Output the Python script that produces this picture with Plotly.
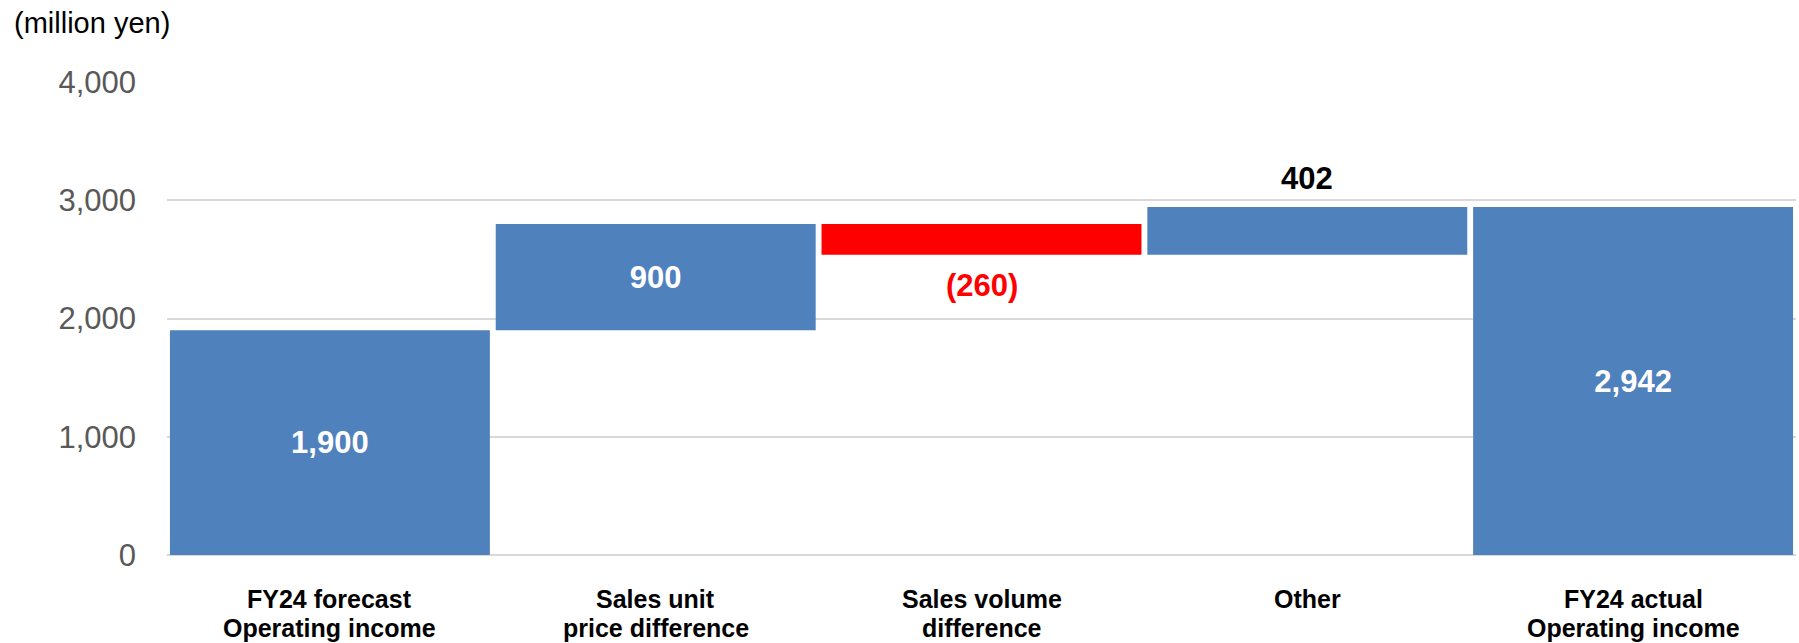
import plotly.graph_objects as go

categories = ["FY24 forecast Operating income", "Sales unit price difference",
              "Sales volume difference", "Other", "FY24 actual Operating income"]
label_line1 = ["FY24 forecast", "Sales unit", "Sales volume", "Other", "FY24 actual"]
label_line2 = ["Operating income", "price difference", "difference", "", "Operating income"]
values = [1900, 900, -260, 402, 2942]
measures = ["absolute", "relative", "relative", "relative", "total"]
y_ticks = [0, 1000, 2000, 3000, 4000]


def fmt(v):
    return f"({abs(v):,})" if v < 0 else f"{v:,}"


labels = [fmt(v) for v in values]
inside = [True, True, False, False, True]

BLUE = "#4f81bd"
RED = "#ff0000"
FONT = "Liberation Sans, Arial, sans-serif"

fig = go.Figure(go.Waterfall(
    x=categories,
    y=values,
    measure=measures,
    text=[t if ins else "" for t, ins in zip(labels, inside)],
    textposition=["inside" if ins else "none" for ins in inside],
    insidetextfont=dict(family=FONT, size=31, color="white", weight="bold"),
    insidetextanchor="middle",
    constraintext="none",
    increasing=dict(marker=dict(color=BLUE)),
    decreasing=dict(marker=dict(color=RED)),
    totals=dict(marker=dict(color=BLUE)),
    connector=dict(visible=False),
    hoverinfo="skip",
))

annotations = [dict(
    text="(million yen)", xref="paper", yref="paper",
    x=0, y=1, xanchor="left", yanchor="middle",
    xshift=-155, yshift=59, showarrow=False,
    font=dict(family=FONT, size=29, color="black"),
)]

# outside data labels (placed relative to the bar end)
running = 0
for cat, v, m, t, ins in zip(categories, values, measures, labels, inside):
    if m == "absolute":
        end = v
    elif m == "total":
        end = running
    else:
        end = running + v
    running = end
    if ins:
        continue
    if v >= 0:
        annotations.append(dict(
            text=f"<b>{t}</b>", x=cat, y=end, xref="x", yref="y",
            yanchor="middle", yshift=29, showarrow=False,
            font=dict(family=FONT, size=31, color="black")))
    else:
        annotations.append(dict(
            text=f"<b>{t}</b>", x=cat, y=end, xref="x", yref="y",
            yanchor="middle", yshift=-31, showarrow=False,
            font=dict(family=FONT, size=31, color=RED)))

# category labels (two tight lines)
for cat, l1, l2 in zip(categories, label_line1, label_line2):
    annotations.append(dict(
        text=f"<b>{l1}</b>", x=cat, y=0, xref="x", yref="paper",
        yanchor="middle", yshift=-44, showarrow=False, borderpad=0,
        font=dict(family=FONT, size=25, color="black")))
    if l2:
        annotations.append(dict(
            text=f"<b>{l2}</b>", x=cat, y=0, xref="x", yref="paper",
            yanchor="middle", yshift=-73, showarrow=False, borderpad=0,
            font=dict(family=FONT, size=25, color="black")))

fig.update_layout(
    width=1799, height=643,
    margin=dict(l=167, r=3, t=82, b=88),
    plot_bgcolor="white", paper_bgcolor="white",
    waterfallgap=0.018,
    showlegend=False,
    font=dict(family=FONT),
    xaxis=dict(
        showgrid=False, zeroline=False, showline=False,
        ticks="", showticklabels=False, automargin=False,
    ),
    yaxis=dict(
        range=[0, 4000],
        tickvals=y_ticks,
        tickformat=",d",
        showgrid=True, gridcolor="#d9d9d9", gridwidth=1.5,
        zeroline=True, zerolinecolor="#d9d9d9", zerolinewidth=1.5,
        showline=False, ticks="", ticklabelstandoff=30, automargin=False,
        tickfont=dict(family=FONT, size=31, color="#595959"),
    ),
    annotations=annotations,
)

fig.write_html("out.html")
